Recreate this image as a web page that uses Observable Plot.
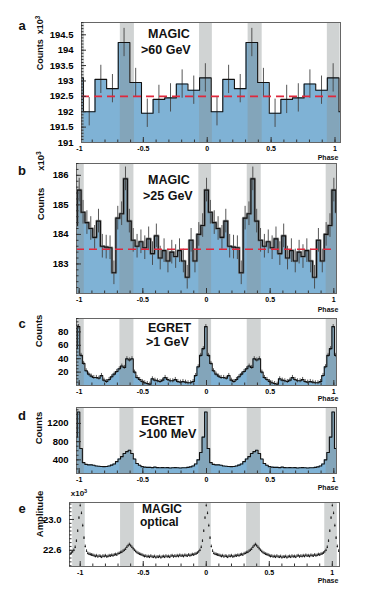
<!DOCTYPE html>
<html><head><meta charset="utf-8">
<script src="https://cdn.jsdelivr.net/npm/d3@7"></script>
<script src="https://cdn.jsdelivr.net/npm/@observablehq/plot@0.6"></script>
<style>
html,body{margin:0;padding:0;background:#fff;}
#wrap{position:relative;width:382px;height:601px;overflow:hidden;font-family:'Liberation Sans',Arial,Helvetica,sans-serif;}
.panel{position:absolute;left:0;}
.lab{position:absolute;white-space:nowrap;line-height:1;color:#111;font-weight:bold;}
.lab sup{font-size:70%;vertical-align:0.45em;line-height:0;}
</style></head><body><div id="wrap"></div>
<script>
// ---------- data ----------
const phaseTicks = [-1, -0.5, 0, 0.5, 1];
const bandP1 = [-0.06, 0.04];
const bandP2 = [0.32, 0.43];

// a: MAGIC > 60 GeV (one period, 11 bins)
const magic60Start = -0.06;
const magic60Bins = 11;
const magic60Counts = [193.1, 192.0, 193.05, 192.75, 194.25, 192.95, 191.95, 192.4, 192.45, 192.9, 192.7];
const magic60Err = 0.46;
const magic60Level = 192.5;
const magic60YTicks = [191, 191.5, 192, 192.5, 193, 193.5, 194, 194.5];

// b: MAGIC > 25 GeV (one period, 33 bins)
const magic25Start = -0.015;
const magic25Bins = 33;
const magic25Counts = [185.5, 184.75, 184.4, 184.2, 183.9, 184.45, 183.6, 183.57, 183.55, 182.7, 184.55,
  184.7, 185.88, 184.45, 183.8, 183.6, 183.75, 183.55, 183.85, 183.35, 183.95, 183.2, 183.45, 183.1,
  183.4, 183.25, 183.45, 183.1, 182.55, 183.8, 183.1, 184.0, 184.3];
const magic25Err = 0.4;
const magic25Level = 183.5;
const magic25YTicks = [183, 184, 185, 186];

// c: EGRET > 1 GeV (one period, 50 bins)
const egret1Start = -0.015;
const egret1Bins = 50;
const egret1Counts = [88, 45, 33, 22, 17, 14, 12, 12, 11, 15, 8, 6, 9, 13, 17, 21, 25, 29, 27, 40,
  38, 40, 20, 12, 9, 6, 4, 3, 2, 10, 8, 7, 6, 8, 12, 9, 7, 7, 9, 6,
  5, 6, 5, 4, 4, 6, 15, 28, 45, 55];
const egret1Err = 3;
const egret1YTicks = [20, 40, 60, 80];

// d: EGRET > 100 MeV (one period, 50 bins)
const egret100Start = -0.015;
const egret100Bins = 50;
const egret100Counts = [1450, 650, 340, 300, 290, 290, 280, 265, 260, 255, 250, 255, 265, 285, 310, 360, 420, 470, 540, 580,
  610, 540, 420, 320, 280, 250, 240, 235, 235, 230, 240, 230, 225, 230, 225, 230, 220, 225, 230, 225,
  220, 225, 225, 235, 245, 265, 310, 400, 560, 900];
const egret100YTicks = [400, 800, 1200];

// e: MAGIC optical (one period, 100 points)
const opticalStep = 0.01;
const opticalAmp = [23.18, 23.08, 22.92, 22.76, 22.65, 22.59, 22.56, 22.55, 22.545, 22.54,
  22.535, 22.53, 22.52, 22.53, 22.515, 22.525, 22.52, 22.51, 22.525, 22.52,
  22.53, 22.515, 22.52, 22.53, 22.525, 22.535, 22.53, 22.54, 22.545, 22.54,
  22.555, 22.56, 22.57, 22.575, 22.59, 22.6, 22.615, 22.64, 22.66, 22.675,
  22.66, 22.64, 22.62, 22.6, 22.585, 22.57, 22.56, 22.55, 22.545, 22.54,
  22.53, 22.52, 22.525, 22.515, 22.52, 22.51, 22.525, 22.515, 22.51, 22.52,
  22.505, 22.515, 22.51, 22.52, 22.505, 22.515, 22.52, 22.51, 22.525, 22.515,
  22.52, 22.51, 22.525, 22.53, 22.515, 22.525, 22.52, 22.53, 22.52, 22.535,
  22.525, 22.53, 22.52, 22.535, 22.53, 22.525, 22.54, 22.53, 22.535, 22.545,
  22.54, 22.55, 22.555, 22.565, 22.58, 22.6, 22.64, 22.72, 22.85, 23.02];
const opticalErr = 0.018;
const opticalYTicks = [22.6, 23.0];

// ---------- helpers ----------
const periods = [-2, -1, 0, 1];
function histBins(start, n, vals, err) {
  const w = 1 / n, out = [];
  for (const p of periods) vals.forEach((v, k) => {
    const x1 = start + k * w + p;
    out.push({x1, x2: x1 + w, xm: x1 + w / 2, v, lo: v - err, hi: v + err});
  });
  return out.sort((a, b) => a.x1 - b.x1);
}
function stepPts(b) {
  const pts = [];
  b.forEach(d => { pts.push({x: d.x1, y: d.v}); pts.push({x: d.x2, y: d.v}); });
  return pts;
}
const bands = [];
for (const p of periods) for (const b of [bandP1, bandP2]) bands.push({x1: b[0] + p, x2: b[1] + p});

const FONT = "'Liberation Sans', Arial, Helvetica, sans-serif";
const FILL = "#7fb2d5";
const wrap = document.getElementById("wrap");

function label(X, Y, html, o = {}) {
  const d = document.createElement("div");
  d.className = "lab";
  d.innerHTML = html;
  d.style.left = X + "px";
  d.style.top = Y + "px";
  d.style.fontSize = (o.size ?? 9.5) + "px";
  const tx = o.anchor === "start" ? "0" : "-50%";
  d.style.transform = `translate(${tx},-50%)` + (o.rotate ? ` rotate(${o.rotate}deg)` : "");
  if (o.anchor === "start") d.style.transformOrigin = "0 50%";
  wrap.appendChild(d);
}

function panel(cfg, dataMarks) {
  const fw = cfg.R - cfg.L, fh = cfg.B - cfg.T;
  const xMinor = d3.range(-11, 11).map(i => i / 10);
  const marks = [
    ...dataMarks,
    Plot.frame({stroke: "#666", strokeWidth: 1}),
    Plot.tickX(xMinor, {x: d => d, insetTop: fh - 2.5, stroke: "#333", clip: true}),
    Plot.tickX(phaseTicks, {x: d => d, insetTop: fh - 5, stroke: "#333", clip: true}),
    Plot.tickY(cfg.yMinor, {y: d => d, insetRight: fw - 2.5, stroke: "#333", clip: true}),
    Plot.tickY(cfg.yTicks, {y: d => d, insetRight: fw - 5, stroke: "#333", clip: true}),
    Plot.axisX(phaseTicks, {label: null, tickSize: 0, tickPadding: 4, fontSize: 7, fontWeight: "bold", fontFamily: FONT, tickFormat: d => String(d)}),
    Plot.axisY(cfg.yTicks, {label: null, tickSize: 0, tickPadding: cfg.yPad ?? 6, fontSize: 9.5, fontWeight: "bold", fontFamily: FONT, tickFormat: cfg.yFmt})
  ];
  const div = document.createElement("div");
  div.className = "panel";
  div.style.top = cfg.top + "px";
  const svg = Plot.plot({
    width: 382, height: cfg.B - cfg.top + 28,
    marginTop: cfg.T - cfg.top, marginBottom: 28, marginLeft: cfg.L, marginRight: 382 - cfg.R,
    x: {domain: cfg.xDom, axis: null, label: null},
    y: {domain: cfg.yDom, axis: null, label: null},
    style: {background: "transparent", fontFamily: FONT, overflow: "visible"},
    marks
  });
  div.appendChild(svg);
  wrap.appendChild(div);
  label(22, cfg.letterY, cfg.letter, {size: 13});
  label(328, cfg.phaseY, "Phase", {size: 7});
  cfg.labels.forEach(l => label(l[0], l[1], l[2], l[3]));
}

const big = {size: 12.5, anchor: "start"};
const axl = {size: 9.5, rotate: -90};

function histMarks(b, base, opts = {}) {
  const pts = stepPts(b);
  const m = [
    Plot.areaY(pts, {x: "x", y1: () => base, y2: "y", fill: FILL, clip: true}),
    Plot.rect(bands, {x1: "x1", x2: "x2", fill: "#8a9090", fillOpacity: 0.4, clip: true})
  ];
  if (opts.err) m.push(Plot.ruleX(b, {x: "xm", y1: "lo", y2: "hi", stroke: "#444", strokeWidth: 0.9, clip: true}));
  if (opts.halo) m.push(Plot.line(pts, {x: "x", y: "y", stroke: "#666", strokeWidth: 2.6, strokeOpacity: 0.7, clip: true}));
  m.push(Plot.line(pts, {x: "x", y: "y", stroke: "#111", strokeWidth: 1.1, clip: true}));
  if (opts.level != null) m.push(Plot.ruleY([opts.level], {y: d => d, stroke: "#e0283c", strokeWidth: 1.6, strokeDasharray: "8,5", clip: true}));
  return m;
}

// ---------- panels ----------
panel({top: 0, L: 81, R: 340, T: 22, B: 142, xDom: [-0.984, 1.043], yDom: [191, 194.9],
  yTicks: magic60YTicks, yMinor: d3.range(1910, 1950).map(i => i / 10), yFmt: d => String(d), yPad: 8,
  letter: "a", letterY: 25, phaseY: 157,
  labels: [[40, 43, "Counts&nbsp; x10<sup>3</sup>", {...axl, size: 9}], [148, 34, "MAGIC", big], [141, 50, "&gt;60 GeV", big]]},
  histMarks(histBins(magic60Start, magic60Bins, magic60Counts, magic60Err), 191, {err: true, level: magic60Level}));

panel({top: 150, L: 76, R: 336, T: 163, B: 293, xDom: [-1.021, 1.021], yDom: [182, 186.4],
  yTicks: magic25YTicks, yMinor: d3.range(910, 933).map(i => i / 5), yFmt: d => String(d), yPad: 8,
  letter: "b", letterY: 170, phaseY: 309,
  labels: [[41, 204, "Counts", axl], [41, 161, "x10<sup>3</sup>", axl], [148, 180, "MAGIC", big], [143, 196, "&gt;25 GeV", big]]},
  histMarks(histBins(magic25Start, magic25Bins, magic25Counts, magic25Err), 182, {err: true, halo: true, level: magic25Level}));

panel({top: 305, L: 76, R: 336, T: 318, B: 385, xDom: [-1.021, 1.021], yDom: [0, 100],
  yTicks: egret1YTicks, yMinor: d3.range(0, 101, 5), yFmt: d => String(d), yPad: 8,
  letter: "c", letterY: 323, phaseY: 398,
  labels: [[39, 331, "Counts", axl], [148, 328, "EGRET", big], [146, 342, "&gt;1 GeV", big]]},
  histMarks(histBins(egret1Start, egret1Bins, egret1Counts, egret1Err), 0, {err: true}));

panel({top: 400, L: 76, R: 336, T: 407, B: 473, xDom: [-1.021, 1.021], yDom: [100, 1550],
  yTicks: egret100YTicks, yMinor: d3.range(100, 1551, 100), yFmt: d => String(d), yPad: 8,
  letter: "d", letterY: 415, phaseY: 487,
  labels: [[39, 428, "Counts", axl], [141, 421, "EGRET", big], [139, 434, "&gt;100 MeV", big]]},
  histMarks(histBins(egret100Start, egret100Bins, egret100Counts, 0), 100));

const optPts = [];
for (const p of periods) opticalAmp.forEach((v, k) => optPts.push({x: k * opticalStep + p, v, lo: v - opticalErr, hi: v + opticalErr}));
panel({top: 490, L: 69, R: 339, T: 502, B: 566, xDom: [-1.085, 1.057], yDom: [22.39, 23.22],
  yTicks: opticalYTicks, yMinor: d3.range(448, 465).map(i => i / 20), yFmt: d3.format(".1f"), yPad: 8,
  letter: "e", letterY: 508, phaseY: 580,
  labels: [[40, 514, "Amplitude", axl], [79, 494, "x10<sup>3</sup>", {size: 8}],
           [142, 509, "MAGIC", {...big, size: 12}], [140, 522, "optical", {...big, size: 12}]]},
  [
    Plot.rect(bands, {x1: "x1", x2: "x2", fill: "#8a9090", fillOpacity: 0.4, clip: true}),
    Plot.ruleX(optPts, {x: "x", y1: "lo", y2: "hi", stroke: "#222", strokeWidth: 0.8, clip: true}),
    Plot.dot(optPts, {x: "x", y: "v", r: 0.7, fill: "#111", clip: true})
  ]);
</script></body></html>
